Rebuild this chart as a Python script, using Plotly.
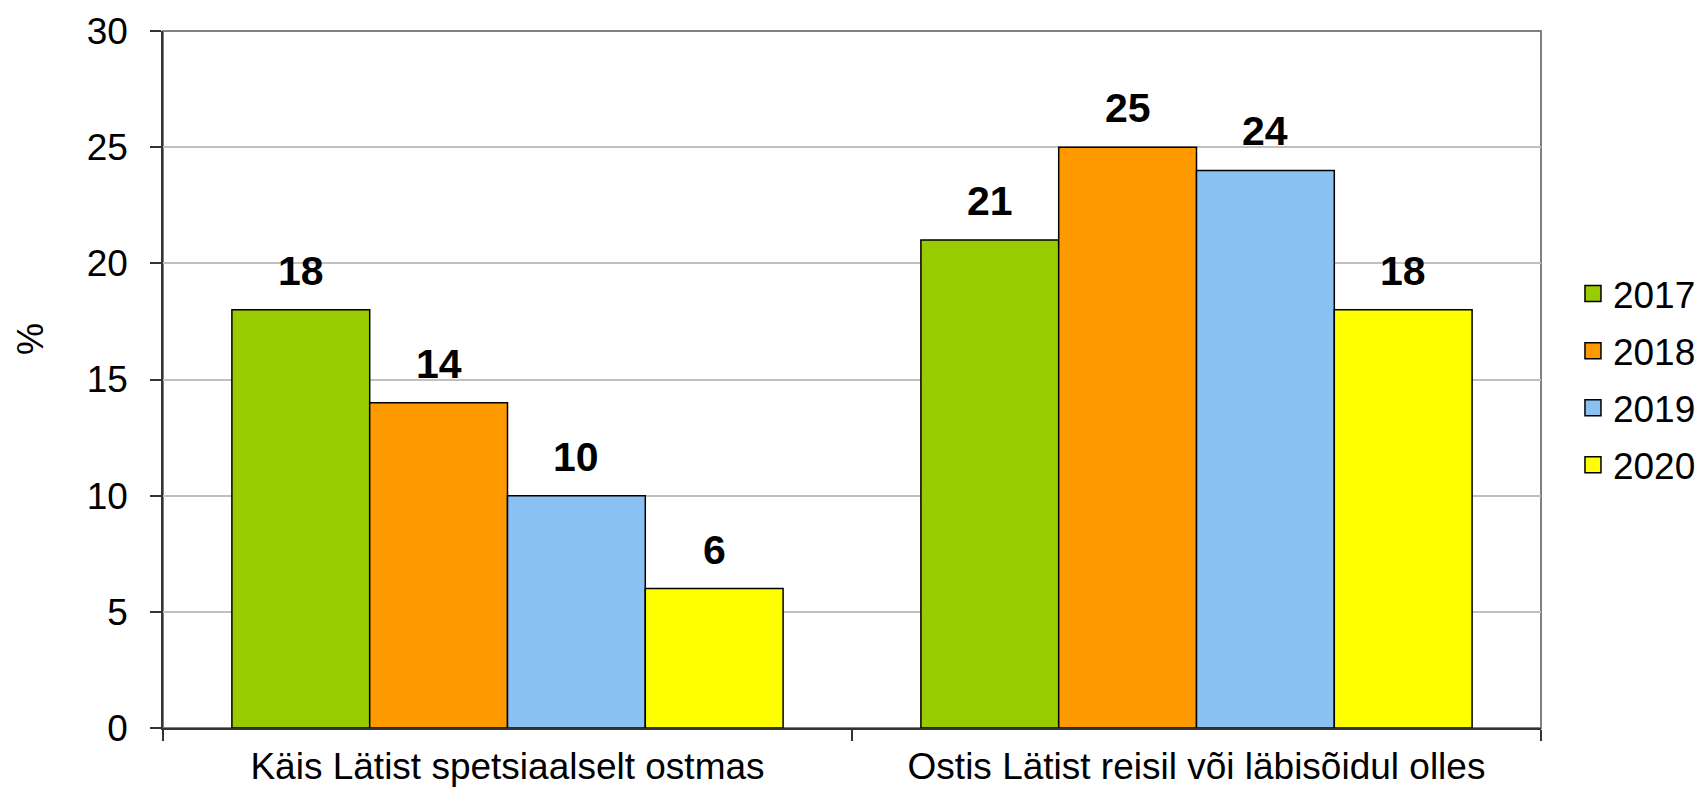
import plotly.graph_objects as go

categories = ["Käis Lätist spetsiaalselt ostmas", "Ostis Lätist reisil või läbisõidul olles"]
years = ["2017", "2018", "2019", "2020"]
values = {
    "2017": [18, 21],
    "2018": [14, 25],
    "2019": [10, 24],
    "2020": [6, 18],
}
colors = {"2017": "#99CC00", "2018": "#FF9900", "2019": "#89C1F2", "2020": "#FFFF00"}
y_ticks = [0, 5, 10, 15, 20, 25, 30]

FONT = "Arial, Liberation Sans, sans-serif"
BARGAP = 0.2

fig = go.Figure()
for yr in years:
    fig.add_trace(go.Bar(
        x=categories, y=values[yr], name=yr, showlegend=False,
        marker=dict(color=colors[yr], line=dict(color="#000000", width=1.5)),
    ))
# legend entries (larger square swatches)
for i, yr in enumerate(years):
    fig.add_trace(go.Scatter(
        x=[None], y=[None], mode="markers", name=yr, legendgroup=yr,
        marker=dict(symbol="square", size=16, color=colors[yr],
                    line=dict(color="#000000", width=1.5)),
    ))

# data labels
n = len(years)
bw = (1 - BARGAP) / n
annotations = []
for j, yr in enumerate(years):
    for i, v in enumerate(values[yr]):
        annotations.append(dict(
            x=i + (j - (n - 1) / 2) * bw, y=v, xref="x", yref="y",
            text=f"<b>{v}</b>", showarrow=False, yanchor="bottom",
            yshift=14, font=dict(family=FONT, size=41, color="#000000"),
        ))
annotations.append(dict(
    x=-0.0965, y=0.558, xref="paper", yref="paper", text="%", showarrow=False,
    xanchor="center", yanchor="middle",
    textangle=-90, font=dict(family=FONT, size=36, color="#000000"),
))

fig.update_layout(
    width=1699, height=790,
    margin=dict(l=163, r=158, t=31, b=62, autoexpand=False),
    paper_bgcolor="#FFFFFF", plot_bgcolor="#FFFFFF",
    barmode="group", bargap=BARGAP, bargroupgap=0,
    font=dict(family=FONT, size=37, color="#000000"),
    annotations=annotations,
    legend=dict(
        x=1.0232, xanchor="left", y=0.5, yanchor="middle",
        font=dict(family=FONT, size=37, color="#000000"),
        traceorder="grouped", tracegroupgap=6, bgcolor="rgba(0,0,0,0)",
    ),
    shapes=[dict(type="rect", xref="paper", yref="paper", x0=0, x1=1, y0=0, y1=1,
                 line=dict(color="#808080", width=2), layer="below")],
)
fig.update_yaxes(
    range=[0, 30], tickvals=y_ticks, showgrid=True, gridcolor="#C0C0C0", gridwidth=2,
    zeroline=False, showline=True, linecolor="#333333", linewidth=1.5,
    ticks="outside", ticklen=11, tickcolor="#333333", tickwidth=1.5,
    ticklabelstandoff=15, tickfont=dict(size=37),
)
fig.update_xaxes(
    showline=True, linecolor="#333333", linewidth=1.5,
    ticks="outside", tickson="boundaries", ticklen=11, tickcolor="#333333", tickwidth=1.5,
    ticklabelstandoff=5, tickfont=dict(size=37), showgrid=False,
)

fig.write_html(
    "out.html",
    config={"displayModeBar": False},
    post_script="document.body.style.margin='0';document.body.style.overflow='hidden';",
)
